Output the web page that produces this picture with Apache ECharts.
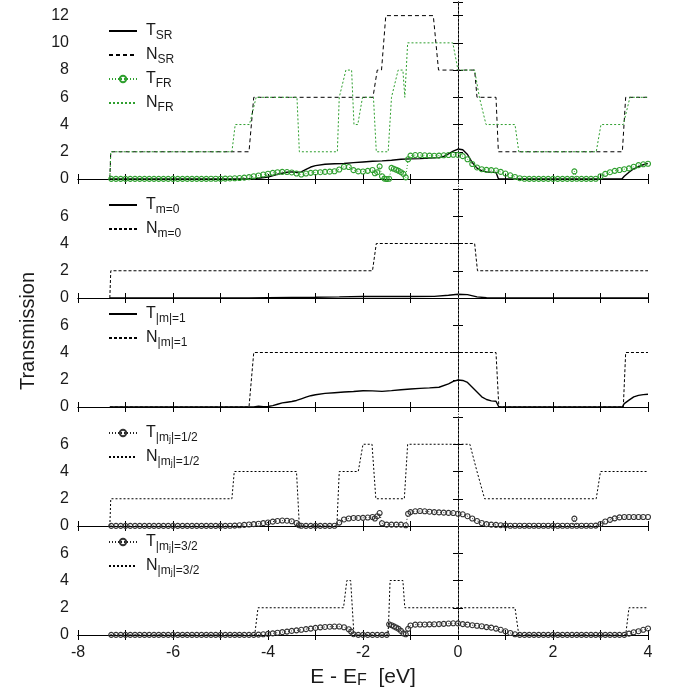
<!DOCTYPE html>
<html><head><meta charset="utf-8">
<script src="https://cdn.jsdelivr.net/npm/echarts@6/dist/echarts.min.js"></script>
<style>html,body{margin:0;padding:0;background:#fff}#c{width:673px;height:695px}</style>
</head><body><div id="c"></div>
<script>
// ---------- data ----------
const X_MIN = -8, X_MAX = 4;
const FERMI = 0;
const xTickLabels = ['-8', '-6', '-4', '-2', '0', '2', '4'];
const yTickLabelsTop = ['0', '2', '4', '6', '8', '10', '12'];
const yTickLabelsLower = ['0', '2', '4', '6'];

// panel 1
const N_SR = [[-7.33,0],[-7.31,2],[-4.40,2],[-4.30,6],[-1.79,6],[-1.70,8],[-1.61,8],[-1.52,12],[-0.52,12],[-0.41,8],[0.35,8],[0.40,6],[0.80,6],[0.85,2],[3.46,2],[3.53,6],[4.0,6]];
const N_FR = [[-7.33,0],[-7.31,2],[-4.76,2],[-4.69,4],[-4.39,4],[-4.25,6],[-3.39,6],[-3.34,2],[-2.54,2],[-2.50,6],[-2.36,8],[-2.24,8],[-2.19,4],[-2.11,4],[-2.01,6],[-1.78,6],[-1.72,2],[-1.47,2],[-1.40,6],[-1.26,8],[-1.16,8],[-1.12,6],[-1.06,10],[-0.11,10],[0.0,8],[0.35,8],[0.45,6],[0.59,4],[1.20,4],[1.28,2],[2.91,2],[3.01,4],[3.48,4],[3.62,6],[4.0,6]];
const T_SR = [[-7.33,0],[-6.0,0],[-5.0,0.01],[-4.6,0.01],[-4.4,0.02],[-4.2,0.06],[-4.0,0.15],[-3.8,0.35],[-3.6,0.5],[-3.5,0.52],[-3.4,0.5],[-3.3,0.52],[-3.2,0.7],[-3.1,0.88],[-3.0,0.98],[-2.8,1.08],[-2.6,1.12],[-2.4,1.14],[-2.2,1.2],[-2.0,1.25],[-1.8,1.3],[-1.6,1.33],[-1.4,1.38],[-1.2,1.45],[-1.0,1.48],[-0.8,1.5],[-0.6,1.54],[-0.4,1.57],[-0.3,1.66],[-0.2,1.85],[-0.1,2.05],[0.0,2.2],[0.1,2.15],[0.2,1.8],[0.3,1.2],[0.4,0.8],[0.5,0.6],[0.6,0.52],[0.7,0.5],[0.8,0.49],[0.85,0.02],[1.0,0],[3.45,0],[3.5,0.2],[3.6,0.5],[3.7,0.75],[3.8,0.9],[3.9,1.05],[4.0,1.15]];
const T_FR = [[-7.3,0.01],[-7.2,0.01],[-7.1,0.01],[-7.0,0.01],[-6.9,0.01],[-6.8,0.01],[-6.7,0.01],[-6.6,0.01],[-6.5,0.01],[-6.4,0.01],[-6.3,0.01],[-6.2,0.01],[-6.1,0.01],[-6.0,0.01],[-5.9,0.01],[-5.8,0.01],[-5.7,0.01],[-5.6,0.01],[-5.5,0.01],[-5.4,0.01],[-5.3,0.01],[-5.2,0.02],[-5.1,0.02],[-5.0,0.02],[-4.9,0.03],[-4.8,0.04],[-4.7,0.05],[-4.6,0.07],[-4.5,0.10],[-4.4,0.14],[-4.3,0.20],[-4.2,0.26],[-4.1,0.33],[-4.0,0.39],[-3.9,0.45],[-3.8,0.50],[-3.7,0.52],[-3.6,0.51],[-3.5,0.48],[-3.4,0.40],[-3.3,0.33],[-3.2,0.40],[-3.1,0.45],[-3.0,0.48],[-2.9,0.50],[-2.8,0.52],[-2.7,0.54],[-2.6,0.57],[-2.5,0.70],[-2.4,0.90],[-2.3,0.88],[-2.2,0.65],[-2.1,0.56],[-2.0,0.55],[-1.9,0.60],[-1.8,0.66],[-1.75,0.42],[-1.7,0.50],[-1.65,0.93],[-1.6,0.20],[-1.55,0.03],[-1.5,0.00],[-1.45,0.02],[-1.4,0.82],[-1.35,0.75],[-1.3,0.68],[-1.25,0.60],[-1.2,0.50],[-1.15,0.38],[-1.1,0.12],[-1.05,1.45],[-1.0,1.72],[-0.9,1.76],[-0.8,1.76],[-0.7,1.74],[-0.6,1.72],[-0.5,1.71],[-0.4,1.72],[-0.3,1.74],[-0.2,1.76],[-0.1,1.78],[0.0,1.77],[0.1,1.68],[0.2,1.45],[0.3,1.10],[0.4,0.85],[0.5,0.72],[0.6,0.67],[0.7,0.65],[0.8,0.62],[0.9,0.52],[1.0,0.40],[1.1,0.27],[1.2,0.15],[1.3,0.06],[1.4,0.02],[1.5,0.01],[1.6,0.01],[1.7,0.01],[1.8,0.01],[1.9,0.01],[2.0,0.01],[2.1,0.01],[2.2,0.01],[2.3,0.01],[2.4,0.01],[2.45,0.56],[2.5,0.02],[2.6,0.01],[2.7,0.01],[2.8,0.01],[2.9,0.02],[3.0,0.20],[3.1,0.38],[3.2,0.50],[3.3,0.60],[3.4,0.66],[3.5,0.72],[3.6,0.78],[3.7,0.90],[3.8,1.02],[3.9,1.08],[4.0,1.12]];

// panel 2
const N_M0 = [[-7.33,0],[-7.31,2],[-1.80,2],[-1.72,4],[0.35,4],[0.41,2],[4.0,2]];
const T_M0 = [[-7.33,0],[-5.0,0],[-4.4,0.01],[-4.0,0.03],[-3.0,0.06],[-2.5,0.08],[-2.0,0.11],[-1.5,0.12],[-1.0,0.11],[-0.5,0.12],[-0.2,0.2],[0.0,0.27],[0.2,0.25],[0.4,0.08],[0.6,0.02],[0.85,0],[4.0,0]];

// panel 3
const N_M1 = [[-7.33,0],[-4.40,0],[-4.30,4],[0.80,4],[0.86,0],[3.48,0],[3.53,4],[4.0,4]];
const T_M1 = [[-7.33,0],[-4.4,0],[-4.3,0.01],[-4.2,0.06],[-4.1,0.02],[-4.0,0.04],[-3.9,0.1],[-3.8,0.2],[-3.7,0.3],[-3.6,0.35],[-3.5,0.4],[-3.4,0.48],[-3.3,0.6],[-3.2,0.72],[-3.1,0.83],[-3.0,0.9],[-2.8,1.0],[-2.6,1.05],[-2.4,1.1],[-2.2,1.14],[-2.0,1.19],[-1.8,1.18],[-1.6,1.15],[-1.4,1.2],[-1.2,1.27],[-1.0,1.32],[-0.8,1.37],[-0.6,1.4],[-0.4,1.45],[-0.2,1.7],[-0.1,1.88],[0.0,1.98],[0.1,1.95],[0.2,1.8],[0.3,1.45],[0.4,1.1],[0.5,0.75],[0.6,0.55],[0.7,0.45],[0.8,0.42],[0.84,0.4],[0.86,0],[3.46,0],[3.5,0.25],[3.6,0.5],[3.7,0.74],[3.8,0.85],[3.9,0.91],[4.0,0.94]];

// panel 4
const N_J12 = [[-7.33,0],[-7.31,2],[-4.76,2],[-4.71,4],[-3.40,4],[-3.34,0],[-2.55,0],[-2.50,4],[-2.10,4],[-2.00,6],[-1.81,6],[-1.73,2],[-1.13,2],[-1.06,6],[0.25,6],[0.40,4],[0.56,2],[2.91,2],[3.00,4],[4.0,4]];
const T_J12 = [[-7.3,0.01],[-7.2,0.01],[-7.1,0.01],[-7.0,0.01],[-6.9,0.01],[-6.8,0.01],[-6.7,0.01],[-6.6,0.01],[-6.5,0.01],[-6.4,0.01],[-6.3,0.01],[-6.2,0.01],[-6.1,0.01],[-6.0,0.01],[-5.9,0.01],[-5.8,0.01],[-5.7,0.01],[-5.6,0.01],[-5.5,0.01],[-5.4,0.01],[-5.3,0.01],[-5.2,0.01],[-5.1,0.01],[-5.0,0.01],[-4.9,0.01],[-4.8,0.02],[-4.7,0.03],[-4.6,0.05],[-4.5,0.08],[-4.4,0.11],[-4.3,0.14],[-4.2,0.17],[-4.1,0.21],[-4.0,0.26],[-3.9,0.32],[-3.8,0.37],[-3.7,0.40],[-3.6,0.39],[-3.5,0.35],[-3.4,0.22],[-3.35,0.06],[-3.3,0.02],[-3.2,0.01],[-3.1,0.01],[-3.0,0.01],[-2.9,0.01],[-2.8,0.01],[-2.7,0.01],[-2.6,0.02],[-2.5,0.25],[-2.4,0.48],[-2.3,0.55],[-2.2,0.59],[-2.1,0.59],[-2.0,0.60],[-1.9,0.62],[-1.8,0.66],[-1.75,0.55],[-1.7,0.72],[-1.65,0.95],[-1.6,0.20],[-1.5,0.10],[-1.4,0.10],[-1.3,0.10],[-1.2,0.10],[-1.1,0.05],[-1.05,0.90],[-1.0,1.02],[-0.9,1.08],[-0.8,1.10],[-0.7,1.08],[-0.6,1.05],[-0.5,1.02],[-0.4,1.00],[-0.3,0.98],[-0.2,0.96],[-0.1,0.95],[0.0,0.90],[0.1,0.86],[0.2,0.72],[0.3,0.55],[0.4,0.37],[0.5,0.22],[0.6,0.14],[0.7,0.10],[0.8,0.08],[0.9,0.06],[1.0,0.04],[1.1,0.02],[1.2,0.02],[1.3,0.02],[1.4,0.02],[1.5,0.02],[1.6,0.02],[1.7,0.02],[1.8,0.02],[1.9,0.02],[2.0,0.02],[2.1,0.02],[2.2,0.02],[2.3,0.02],[2.4,0.02],[2.45,0.54],[2.5,0.02],[2.6,0.02],[2.7,0.02],[2.8,0.02],[2.9,0.03],[3.0,0.15],[3.1,0.33],[3.2,0.45],[3.3,0.56],[3.4,0.63],[3.5,0.66],[3.6,0.66],[3.7,0.66],[3.8,0.66],[3.9,0.66],[4.0,0.66]];

// panel 5
const N_J32 = [[-7.33,0],[-4.28,0],[-4.21,2],[-2.41,2],[-2.34,4],[-2.26,4],[-2.19,0],[-1.47,0],[-1.43,4],[-1.16,4],[-1.12,2],[1.20,2],[1.28,0],[3.53,0],[3.60,2],[4.0,2]];
const T_J32 = [[-7.3,0.01],[-7.2,0.01],[-7.1,0.01],[-7.0,0.01],[-6.9,0.01],[-6.8,0.01],[-6.7,0.01],[-6.6,0.01],[-6.5,0.01],[-6.4,0.01],[-6.3,0.01],[-6.2,0.01],[-6.1,0.01],[-6.0,0.01],[-5.9,0.01],[-5.8,0.01],[-5.7,0.01],[-5.6,0.01],[-5.5,0.01],[-5.4,0.01],[-5.3,0.01],[-5.2,0.01],[-5.1,0.01],[-5.0,0.01],[-4.9,0.01],[-4.8,0.01],[-4.7,0.01],[-4.6,0.01],[-4.5,0.01],[-4.4,0.01],[-4.3,0.01],[-4.2,0.03],[-4.1,0.05],[-4.0,0.08],[-3.9,0.12],[-3.8,0.17],[-3.7,0.21],[-3.6,0.25],[-3.5,0.30],[-3.4,0.34],[-3.3,0.38],[-3.2,0.43],[-3.1,0.47],[-3.0,0.52],[-2.9,0.56],[-2.8,0.59],[-2.7,0.61],[-2.6,0.62],[-2.5,0.62],[-2.4,0.57],[-2.3,0.42],[-2.25,0.25],[-2.2,0.06],[-2.1,0.01],[-2.0,0.01],[-1.9,0.01],[-1.8,0.01],[-1.7,0.01],[-1.6,0.01],[-1.5,0.01],[-1.45,0.78],[-1.4,0.72],[-1.35,0.63],[-1.3,0.55],[-1.25,0.45],[-1.2,0.30],[-1.15,0.12],[-1.1,0.05],[-1.05,0.45],[-1.0,0.70],[-0.9,0.76],[-0.8,0.77],[-0.7,0.77],[-0.6,0.78],[-0.5,0.79],[-0.4,0.80],[-0.3,0.82],[-0.2,0.84],[-0.1,0.86],[0.0,0.85],[0.1,0.80],[0.2,0.76],[0.3,0.72],[0.4,0.68],[0.5,0.64],[0.6,0.58],[0.7,0.54],[0.8,0.47],[0.9,0.38],[1.0,0.27],[1.1,0.15],[1.2,0.05],[1.3,0.01],[1.4,0.01],[1.5,0.01],[1.6,0.01],[1.7,0.01],[1.8,0.01],[1.9,0.01],[2.0,0.01],[2.1,0.01],[2.2,0.01],[2.3,0.01],[2.4,0.01],[2.5,0.01],[2.6,0.01],[2.7,0.01],[2.8,0.01],[2.9,0.01],[3.0,0.01],[3.1,0.01],[3.2,0.01],[3.3,0.01],[3.4,0.01],[3.5,0.01],[3.6,0.10],[3.7,0.20],[3.8,0.28],[3.9,0.38],[4.0,0.48]];

// legend labels (rich text: m = main letter, s = subscript, ss = sub-subscript)
const legendLabels = {
  T_SR: '{m|T}{s|SR}', N_SR: '{m|N}{s|SR}', T_FR: '{m|T}{s|FR}', N_FR: '{m|N}{s|FR}',
  T_M0: '{m|T}{s|m=0}', N_M0: '{m|N}{s|m=0}',
  T_M1: '{m|T}{s||m|=1}', N_M1: '{m|N}{s||m|=1}',
  T_J12: '{m|T}{s||m}{ss|j}{s||=1/2}', N_J12: '{m|N}{s||m}{ss|j}{s||=1/2}',
  T_J32: '{m|T}{s||m}{ss|j}{s||=3/2}', N_J32: '{m|N}{s||m}{ss|j}{s||=3/2}'
};

// ---------- styling / layout ----------
const FONT = 'Liberation Sans';
const TXT = '#1a1a1a';
const GREEN = '#2e9f2e';
const styles = {
  solid:  { lineStyle: { color: '#000', width: 1.4, type: 'solid' }, symbol: 'none', itemStyle: { color: '#000' } },
  dashed: { lineStyle: { color: '#000', width: 1, type: [4, 3] }, symbol: 'none', itemStyle: { color: '#000' } },
  dashedFine: { lineStyle: { color: '#000', width: 1, type: [3, 2] }, symbol: 'none', itemStyle: { color: '#000' } },
  dotGreen: { lineStyle: { color: GREEN, width: 1, type: [2, 2] }, symbol: 'none', itemStyle: { color: GREEN } },
  dotBlack: { lineStyle: { color: '#000', width: 1, type: [2, 2] }, symbol: 'none', itemStyle: { color: '#000' } },
  circGreen: { lineStyle: { color: GREEN, width: 1, type: [1, 2] }, showSymbol: true, symbol: 'circle', symbolSize: 5,
               itemStyle: { color: 'rgba(255,255,255,0)', borderColor: GREEN, borderWidth: 1.1 } },
  circBlack: { lineStyle: { color: '#222', width: 1, type: [1, 2] }, showSymbol: true, symbol: 'circle', symbolSize: 5,
               itemStyle: { color: 'rgba(255,255,255,0)', borderColor: '#333', borderWidth: 1.1 } }
};

const panels = [
  { top: 2,   height: 177, ymax: 13, legendTop: 23,
    series: [['T_SR', T_SR, 'solid'], ['N_SR', N_SR, 'dashed'], ['T_FR', T_FR, 'circGreen'], ['N_FR', N_FR, 'dotGreen']] },
  { top: 189, height: 109, ymax: 8, legendTop: 197,
    series: [['T_M0', T_M0, 'solid'], ['N_M0', N_M0, 'dashedFine']] },
  { top: 298, height: 109, ymax: 8, legendTop: 306,
    series: [['T_M1', T_M1, 'solid'], ['N_M1', N_M1, 'dashedFine']] },
  { top: 417, height: 109, ymax: 8, legendTop: 425,
    series: [['N_J12', N_J12, 'dotBlack'], ['T_J12', T_J12, 'circBlack']], legendOrder: ['T_J12', 'N_J12'] },
  { top: 526, height: 109, ymax: 8, legendTop: 534,
    series: [['N_J32', N_J32, 'dotBlack'], ['T_J32', T_J32, 'circBlack']], legendOrder: ['T_J32', 'N_J32'] }
];

const LEFT = 78, WIDTH = 570;
const grid = [], xAxis = [], yAxis = [], series = [], legend = [];
const axisLine = { show: true, lineStyle: { color: '#000', width: 1 } };
const legendRich = {
  m: { fontSize: 16, lineHeight: 22, color: TXT, fontFamily: FONT, padding: [0, 0, 0, 4] },
  s: { fontSize: 12, lineHeight: 10, color: TXT, fontFamily: FONT, verticalAlign: 'bottom' },
  ss: { fontSize: 9, lineHeight: 6, color: TXT, fontFamily: FONT, verticalAlign: 'bottom' }
};
const hiddenSymbol = { color: 'rgba(0,0,0,0)', borderColor: 'rgba(0,0,0,0)', borderWidth: 0, opacity: 0 };

panels.forEach((p, i) => {
  grid.push({ left: LEFT, width: WIDTH, top: p.top, height: p.height, show: false });
  const last = i === panels.length - 1;
  xAxis.push({
    type: 'value', gridIndex: i, position: 'bottom', min: X_MIN, max: X_MAX, interval: 1,
    axisLine, splitLine: { show: false },
    axisTick: { show: true, inside: true, length: 5, lineStyle: { color: '#000' } },
    axisLabel: { show: last, margin: 10, fontSize: 16, color: TXT, fontFamily: FONT,
      formatter: v => { const s = String(v); return xTickLabels.includes(s) ? s : ''; } },
    name: last ? '{a|E - E}{f|F}{a|  [eV]}' : '', nameLocation: 'middle', nameGap: 30,
    nameTextStyle: { color: TXT, fontFamily: FONT, rich: {
      a: { fontSize: 21, lineHeight: 24, color: TXT, fontFamily: FONT },
      f: { fontSize: 16, lineHeight: 12, color: TXT, fontFamily: FONT, verticalAlign: 'bottom' } } }
  });
  xAxis.push({
    type: 'value', gridIndex: i, position: 'top', min: X_MIN, max: X_MAX, interval: 1,
    axisLine, splitLine: { show: false },
    axisTick: { show: true, inside: true, length: 5, lineStyle: { color: '#000' } },
    axisLabel: { show: false }
  });
  const labels = i === 0 ? yTickLabelsTop : yTickLabelsLower;
  yAxis.push({
    type: 'value', gridIndex: i, position: 'left', min: 0, max: p.ymax, interval: 2,
    axisLine, splitLine: { show: false },
    axisTick: { show: true, inside: true, length: 5, lineStyle: { color: '#000' } },
    axisLabel: { margin: 9, fontSize: 16, color: TXT, fontFamily: FONT,
      formatter: v => { const s = String(v); return labels.includes(s) ? s : ''; } }
  });
  yAxis.push({
    type: 'value', gridIndex: i, position: 'right', min: 0, max: p.ymax, interval: 2,
    axisLine, splitLine: { show: false },
    axisTick: { show: true, inside: true, length: 5, lineStyle: { color: '#000' } },
    axisLabel: { show: false }
  });
  p.series.forEach(([name, data, st]) => {
    series.push(Object.assign({
      type: 'line', name, data, xAxisIndex: 2 * i, yAxisIndex: 2 * i,
      animation: false, silent: true, z: st.startsWith('circ') ? 4 : 3
    }, JSON.parse(JSON.stringify(styles[st]))));
  });
  const styleOf = {};
  p.series.forEach(s => { styleOf[s[0]] = s[2]; });
  legend.push({
    data: (p.legendOrder || p.series.map(s => s[0])).map(n =>
      styleOf[n].startsWith('circ') ? { name: n } : { name: n, itemStyle: hiddenSymbol }),
    orient: 'vertical', left: 108, top: p.legendTop, padding: 0,
    itemWidth: 28, itemHeight: 8, itemGap: 5, selectedMode: false,
    formatter: n => legendLabels[n],
    textStyle: { color: TXT, fontFamily: FONT, rich: legendRich }
  });
});

// overlay grid spanning all panels, used for the Fermi-level reference line
grid.push({ left: LEFT, width: WIDTH, top: 2, height: 633, show: false });
xAxis.push({ type: 'value', gridIndex: 5, min: X_MIN, max: X_MAX, show: false });
yAxis.push({ type: 'value', gridIndex: 5, min: 0, max: 1, show: false });
series.push({
  type: 'line', name: 'fermi', xAxisIndex: 10, yAxisIndex: 10, data: [[FERMI, 0]],
  symbol: 'none', lineStyle: { width: 0 }, animation: false, silent: true, z: 1,
  markLine: { silent: true, symbol: ['none', 'none'], label: { show: false }, animation: false,
    lineStyle: { color: '#666', width: 1, type: [1.5, 2.5] }, data: [{ xAxis: FERMI }] }
});

const chart = echarts.init(document.getElementById('c'), null, { renderer: 'canvas' });
chart.setOption({
  animation: false,
  backgroundColor: '#fff',
  grid, xAxis, yAxis, series, legend,
  graphic: [{
    type: 'text', x: 28, y: 331, rotation: Math.PI / 2,
    style: { text: 'Transmission', font: '20px "Liberation Sans"', fill: TXT, align: 'center', verticalAlign: 'middle' }
  }]
});
</script></body></html>
